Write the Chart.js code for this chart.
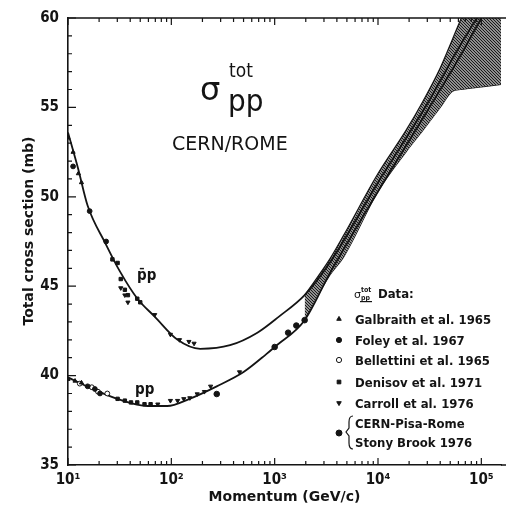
<!DOCTYPE html>
<html>
<head>
<meta charset="utf-8">
<script src="https://cdn.jsdelivr.net/npm/chart.js@4.4.0/dist/chart.umd.min.js"></script>
<style>
  html, body { margin: 0; padding: 0; background: #fff; }
</style>
</head>
<body>
<canvas id="myChart" width="506" height="511"></canvas>
<script>
// momentum in GeV/c, total cross section in mb
const xMajor = [10, 100, 1000, 10000, 100000];
const xLabels = ['10¹', '10²', '10³', '10⁴', '10⁵'];
const yMajor = [35, 40, 45, 50, 55, 60];

// fitted curves
const pbarpCurveP = [10, 12.5, 15.5, 23, 32, 47, 69, 115, 190, 370, 680, 1100, 1950, 3400, 10000, 30000, 60000, 95000];
const pbarpCurveS = [53.6, 51.6, 49.5, 47.4, 45.8, 44.3, 43.3, 42.0, 41.5, 41.7, 42.4, 43.3, 44.5, 46.3, 50.8, 55.2, 58.3, 60.2];
const ppCurveP = [10, 16.6, 30, 59, 91, 150, 275, 500, 830, 1000, 1950, 3400, 10000, 30000, 60000, 100000];
const ppCurveS = [39.9, 39.3, 38.7, 38.3, 38.3, 38.7, 39.4, 40.2, 41.2, 41.6, 43.1, 45.7, 50.3, 54.8, 57.7, 60.0];

// shaded extrapolation band
const bandP = [1950, 3400, 4600, 10000, 18600, 27000, 40000, 52500, 63000, 100000, 160000];
const bandUpper = [44.5, 46.5, 47.8, 51.3, 53.7, 55.3, 57.2, 58.8, 59.9, 62.5, 65.0];
const bandLower = [43.1, 45.6, 46.6, 50.3, 52.5, 53.7, 55.0, 55.9, 56.0, 56.15, 56.3];

// data points
const galbraithP = [10, 11.2, 12.6, 13.5, 10, 11.7, 13.5];
const galbraithS = [53.3, 52.5, 51.3, 50.8, 39.8, 39.7, 39.6];
const foleyP = [11.2, 16.2, 23.4, 15.5, 18.2, 20.4];
const foleyS = [51.7, 49.2, 47.5, 39.4, 39.25, 39.0];
const bellettiniP = [13, 17, 19.5, 24];
const bellettiniS = [39.55, 39.35, 39.1, 39.0];
const denisovP = [26.9, 30.2, 32.4, 35.5, 38, 46.8, 50, 30.2, 35.5, 40.7, 46.8, 55, 63];
const denisovS = [46.5, 46.3, 45.4, 44.8, 44.5, 44.3, 44.1, 38.7, 38.6, 38.5, 38.5, 38.4, 38.4];
const carrollP = [32.4, 35.5, 38, 69, 98, 120, 148, 166, 74, 98, 115, 132, 151, 178, 209, 240, 457];
const carrollS = [44.9, 44.5, 44.1, 43.4, 42.3, 42.0, 41.9, 41.8, 38.4, 38.6, 38.6, 38.7, 38.75, 38.97, 39.1, 39.4, 40.2];
const cernP = [275, 1000, 1350, 1620, 1950];
const cernS = [38.97, 41.6, 42.4, 42.8, 43.1];

const ink = '#141414';

function pts(xs, ys) {
  return xs.map((x, i) => ({ x: x, y: ys[i] }));
}

function hatchPattern() {
  const c = document.createElement('canvas');
  c.width = 3; c.height = 3;
  const g = c.getContext('2d');
  g.fillStyle = '#fff';
  g.fillRect(0, 0, 3, 3);
  g.strokeStyle = '#1a1a1a';
  g.lineWidth = 1.4;
  g.beginPath();
  g.moveTo(0, 0); g.lineTo(3, 3);
  g.moveTo(-1, 2); g.lineTo(1, 4);
  g.moveTo(2, -1); g.lineTo(4, 1);
  g.stroke();
  return g.createPattern(c, 'repeat');
}

function markerSet(label, xs, ys, style, fill, rot, r) {
  return {
    label: label,
    data: pts(xs, ys),
    showLine: false,
    pointStyle: style,
    pointRotation: rot || 0,
    pointRadius: r || 2.4,
    pointBorderWidth: 1,
    pointBackgroundColor: fill,
    pointBorderColor: ink,
    order: 0
  };
}

const xMinorTicks = [];
for (let e = 1; e <= 5; e++) {
  for (let m = 1; m <= 9; m++) {
    const v = m * Math.pow(10, e);
    if (v <= 155000) xMinorTicks.push(Math.round(v));
  }
}
const yAllTicks = [];
for (let v = 35; v <= 60; v++) yAllTicks.push(v);

const legendRows = [
  { text: 'Galbraith et al. 1965', style: 'triangle', fill: ink, rot: 0 },
  { text: 'Foley et al. 1967', style: 'circle', fill: ink, rot: 0 },
  { text: 'Bellettini et al. 1965', style: 'circle', fill: '#fff', rot: 0 },
  { text: 'Denisov et al. 1971', style: 'rect', fill: ink, rot: 0 },
  { text: 'Carroll et al. 1976', style: 'triangle', fill: ink, rot: 180 }
];

const frameTicks = {
  id: 'frameTicks',
  afterDraw(chart) {
    const { ctx, chartArea: a, scales: { x, y } } = chart;
    ctx.save();
    ctx.strokeStyle = ink;
    ctx.lineWidth = 1.6;
    ctx.beginPath();
    ctx.moveTo(a.left, a.top);
    ctx.lineTo(chart.width, a.top);
    ctx.moveTo(a.right, a.bottom);
    ctx.lineTo(chart.width, a.bottom);
    ctx.stroke();
    ctx.lineWidth = 1.2;
    ctx.beginPath();
    x.ticks.forEach(t => {
      const px = x.getPixelForValue(t.value);
      const len = t.major ? 7 : 4;
      ctx.moveTo(px, a.bottom); ctx.lineTo(px, a.bottom - len);
      ctx.moveTo(px, a.top); ctx.lineTo(px, a.top + len);
    });
    y.ticks.forEach(t => {
      const py = y.getPixelForValue(t.value);
      const len = t.major ? 8 : 4;
      ctx.moveTo(a.left, py); ctx.lineTo(a.left + len, py);
    });
    ctx.stroke();
    ctx.restore();
  }
};

const annotations = {
  id: 'annotations',
  afterDraw(chart) {
    const ctx = chart.ctx;
    ctx.save();
    ctx.fillStyle = ink;
    ctx.textBaseline = 'alphabetic';

    // big title
    ctx.font = '32px "DejaVu Sans"';
    ctx.fillText('σ', 200, 100);
    ctx.font = '19px "DejaVu Sans Condensed"';
    ctx.fillText('tot', 229, 77);
    ctx.font = '31px "DejaVu Sans Condensed"';
    ctx.fillText('pp', 228, 111);
    ctx.font = '19px "DejaVu Sans"';
    ctx.fillText('CERN/ROME', 172, 150);

    // curve labels
    ctx.font = 'bold 15px "DejaVu Sans Condensed"';
    ctx.fillText('p\u0304p', 137, 280);
    ctx.fillText('pp', 135, 394);

    // legend
    ctx.font = '11px "DejaVu Sans"';
    ctx.fillText('σ', 354, 298);
    ctx.font = 'bold 7px "DejaVu Sans Condensed"';
    ctx.fillText('tot', 361, 292);
    ctx.fillText('pp', 361, 300);
    ctx.fillRect(360, 301, 12, 1.2);
    ctx.font = 'bold 13px "DejaVu Sans Condensed"';
    ctx.fillText('Data:', 378, 298);

    const rowY = [319, 340, 360, 382, 403];
    legendRows.forEach((row, i) => {
      ctx.fillStyle = row.fill;
      ctx.strokeStyle = ink;
      ctx.lineWidth = 1;
      Chart.helpers.drawPoint(ctx, { pointStyle: row.style, radius: 2.6, rotation: row.rot, borderWidth: 1 }, 339, rowY[i]);
      ctx.fillStyle = ink;
      ctx.fillText(row.text, 355, rowY[i] + 5);
    });
    ctx.fillStyle = ink;
    Chart.helpers.drawPoint(ctx, { pointStyle: 'circle', radius: 3, rotation: 0, borderWidth: 1 }, 339, 433);
    ctx.fillText('CERN-Pisa-Rome', 355, 428);
    ctx.fillText('Stony Brook 1976', 355, 447);
    // brace
    ctx.lineWidth = 1.2;
    ctx.beginPath();
    ctx.moveTo(353, 416);
    ctx.quadraticCurveTo(349, 416, 349, 422);
    ctx.lineTo(349, 428);
    ctx.lineTo(346, 432);
    ctx.lineTo(349, 436);
    ctx.lineTo(349, 443);
    ctx.quadraticCurveTo(349, 449, 353, 449);
    ctx.stroke();
    ctx.restore();
  }
};

const labelFont = { family: 'DejaVu Sans Condensed', size: 15, weight: 'bold' };
const titleFont = { family: 'DejaVu Sans', size: 14, weight: 'bold' };

const datasets = [
  {
    label: 'band upper',
    data: pts(bandP, bandUpper),
    borderColor: ink,
    borderWidth: 1.2,
    pointRadius: 0,
    cubicInterpolationMode: 'monotone',
    backgroundColor: hatchPattern(),
    fill: '+1',
    order: 2
  },
  {
    label: 'band lower',
    data: pts(bandP, bandLower),
    borderColor: ink,
    borderWidth: 1.2,
    pointRadius: 0,
    cubicInterpolationMode: 'monotone',
    fill: false,
    order: 2
  },
  {
    label: 'pbar p fit',
    data: pts(pbarpCurveP, pbarpCurveS),
    borderColor: ink,
    borderWidth: 1.8,
    pointRadius: 0,
    cubicInterpolationMode: 'monotone',
    fill: false,
    order: 1
  },
  {
    label: 'pp fit',
    data: pts(ppCurveP, ppCurveS),
    borderColor: ink,
    borderWidth: 1.8,
    pointRadius: 0,
    cubicInterpolationMode: 'monotone',
    fill: false,
    order: 1
  },
  markerSet('Galbraith et al. 1965', galbraithP, galbraithS, 'triangle', ink),
  markerSet('Foley et al. 1967', foleyP, foleyS, 'circle', ink),
  markerSet('Bellettini et al. 1965', bellettiniP, bellettiniS, 'circle', '#fff'),
  markerSet('Denisov et al. 1971', denisovP, denisovS, 'rect', ink),
  markerSet('Carroll et al. 1976', carrollP, carrollS, 'triangle', ink, 180),
  markerSet('CERN-Pisa-Rome Stony Brook 1976', cernP, cernS, 'circle', ink, 0, 2.8)
];

new Chart(document.getElementById('myChart'), {
  type: 'line',
  data: { datasets: datasets },
  options: {
    responsive: false,
    animation: false,
    layout: { padding: { top: 11, right: -6, left: 0, bottom: 0 } },
    plugins: {
      legend: { display: false },
      tooltip: { enabled: false }
    },
    scales: {
      x: {
        type: 'logarithmic',
        min: 10,
        max: 155000,
        afterBuildTicks: scale => {
          scale.ticks = xMinorTicks.map(v => ({ value: v, major: xMajor.includes(v) }));
        },
        afterFit: scale => { scale.height = 46; },
        ticks: {
          autoSkip: false,
          maxRotation: 0,
          padding: 6,
          color: ink,
          font: labelFont,
          callback: value => {
            const i = xMajor.indexOf(Math.round(value));
            return i >= 0 ? xLabels[i] : '';
          }
        },
        grid: { display: false, drawTicks: false },
        border: { display: true, color: ink, width: 1.6 },
        title: {
          display: true,
          text: 'Momentum (GeV/c)',
          color: ink,
          font: titleFont,
          padding: { top: 0, bottom: 5 }
        }
      },
      y: {
        type: 'linear',
        min: 35,
        max: 60,
        afterBuildTicks: scale => {
          scale.ticks = yAllTicks.map(v => ({ value: v, major: yMajor.includes(v) }));
        },
        afterFit: scale => { scale.width = 68; },
        ticks: {
          autoSkip: false,
          padding: 9,
          color: ink,
          font: labelFont,
          callback: value => (yMajor.includes(value) ? String(value) : '')
        },
        grid: { display: false, drawTicks: false },
        border: { display: true, color: ink, width: 1.6 },
        title: {
          display: true,
          text: '\u2002\u2002\u2002Total cross section (mb)',
          color: ink,
          font: titleFont,
          padding: { top: 21, bottom: 0 }
        }
      }
    }
  },
  plugins: [frameTicks, annotations]
});
</script>
</body>
</html>
